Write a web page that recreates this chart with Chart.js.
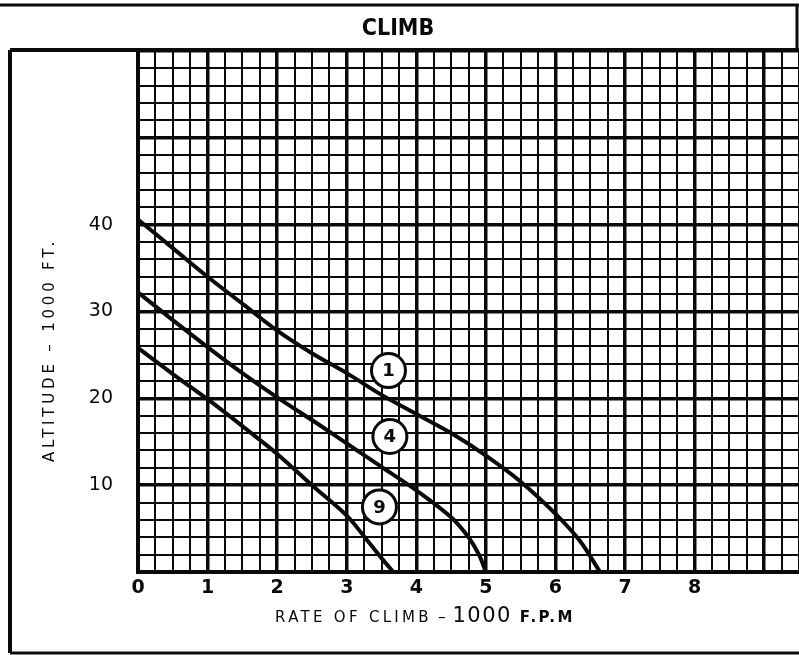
<!DOCTYPE html>
<html><head><meta charset="utf-8">
<script src="https://cdn.jsdelivr.net/npm/chart.js@4/dist/chart.umd.min.js"></script>
<style>html,body{margin:0;padding:0;background:#fff;overflow:hidden}</style>
</head><body>
<canvas id="c" width="799" height="655" style="display:block;width:799px;height:655px"></canvas>
<script>
// ---- text ----
const chartTitle = 'CLIMB';
const xTitleParts = ['RATE OF CLIMB', '–', '1000', 'F.P.M'];
const yAxisTitle = 'ALTITUDE – 1000 FT.';
const xTickLabels = ['0','1','2','3','4','5','6','7','8'];
const yTickLabels = ['10','20','30','40'];

// ---- data (rate of climb, 1000 fpm  vs altitude, 1000 ft) ----
const curve1Rate = [0, 0.5, 1, 1.5, 2, 2.5, 3, 3.5, 4, 4.5, 5, 5.5, 6, 6.35, 6.64];
const curve1Alt  = [40.6, 37.3, 34.0, 30.9, 27.8, 25.2, 22.9, 20.4, 18.2, 16.0, 13.4, 10.4, 6.7, 3.6, 0];
const curve4Rate = [0, 0.5, 1, 1.5, 2, 2.5, 3, 3.5, 4, 4.5, 4.75, 4.9, 5];
const curve4Alt  = [32.2, 29.0, 25.9, 22.9, 20.1, 17.5, 14.8, 12.1, 9.4, 6.3, 4.0, 2.0, 0];
const curve9Rate = [0, 0.5, 1, 1.5, 2, 2.5, 3, 3.25, 3.5, 3.67];
const curve9Alt  = [25.8, 22.8, 19.9, 16.8, 13.6, 10.0, 6.5, 4.1, 1.6, 0];
const tagText = ['1', '4', '9'];
const tagRate = [3.6, 3.62, 3.47];
const tagAlt  = [23.2, 15.6, 7.5];

const INK = '#0a0a0a';
const pts = (xs, ys) => xs.map((x, i) => ({x, y: ys[i]}));

const decor = {
  id: 'decor',
  beforeDraw(chart) {
    const ctx = chart.ctx;
    ctx.save();
    ctx.fillStyle = '#fff';
    ctx.fillRect(0, 0, chart.width, chart.height);
    ctx.restore();
  },
  afterDatasetsDraw(chart) {
    const ctx = chart.ctx;
    const meta = chart.getDatasetMeta(3);
    ctx.save();
    ctx.fillStyle = INK;
    ctx.font = 'bold 18px "DejaVu Sans", sans-serif';
    ctx.textAlign = 'center';
    ctx.textBaseline = 'middle';
    meta.data.forEach((el, i) => ctx.fillText(tagText[i], el.x, el.y + 1));
    ctx.restore();
  },
  afterDraw(chart) {
    const ctx = chart.ctx;
    const W = chart.width, H = chart.height;
    const area = chart.chartArea;
    ctx.save();
    ctx.strokeStyle = INK;
    const line = (x1, y1, x2, y2, w) => {
      ctx.lineWidth = w; ctx.beginPath(); ctx.moveTo(x1, y1); ctx.lineTo(x2, y2); ctx.stroke();
    };
    line(0, 5, W, 5, 3);            // top frame
    line(W - 2, 5, W - 2, 50, 3);   // title box right edge
    line(10, area.top - 1, W, area.top - 1, 4); // plot top frame
    line(10, area.top - 1, 10, H - 2, 4);       // left frame
    line(10, H - 2, W, H - 2, 3);   // bottom frame

    // chart title
    ctx.fillStyle = INK;
    ctx.textAlign = 'center';
    ctx.textBaseline = 'middle';
    ctx.font = 'bold 23px "DejaVu Sans Condensed", "Liberation Sans Narrow", "DejaVu Sans", sans-serif';
    ctx.fillText(chartTitle, 398, 29);

    // x-axis title (mixed fonts)
    ctx.textBaseline = 'alphabetic';
    ctx.textAlign = 'left';
    const parts = [
      {t: xTitleParts[0], f: '15px "DejaVu Sans", sans-serif', ls: '3.3px', gap: 6},
      {t: xTitleParts[1], f: '15px "DejaVu Sans", sans-serif', ls: '0px', gap: 7},
      {t: xTitleParts[2], f: '21px "DejaVu Sans", sans-serif', ls: '1.5px', gap: 8},
      {t: xTitleParts[3], f: 'bold 15px "DejaVu Sans", sans-serif', ls: '2.5px', gap: 0}
    ];
    let total = 0;
    parts.forEach(p => { ctx.font = p.f; ctx.letterSpacing = p.ls; p.w = ctx.measureText(p.t).width; total += p.w + p.gap; });
    let x = 425 - total / 2;
    parts.forEach(p => { ctx.font = p.f; ctx.letterSpacing = p.ls; ctx.fillText(p.t, x, 622); x += p.w + p.gap; });

    // y-axis title (rotated)
    ctx.save();
    ctx.translate(54, 350);
    ctx.rotate(-Math.PI / 2);
    ctx.font = '15px "DejaVu Sans", sans-serif';
    ctx.letterSpacing = '3.8px';
    ctx.textAlign = 'center';
    ctx.textBaseline = 'alphabetic';
    ctx.fillText(yAxisTitle, 0, 0);
    ctx.restore();
    ctx.restore();
  }
};

const curveStyle = {
  showLine: true, borderColor: INK, borderWidth: 4, pointRadius: 0, pointHoverRadius: 0,
  tension: 0.35, fill: false, order: 1
};

new Chart(document.getElementById('c'), {
  type: 'scatter',
  data: {
    datasets: [
      Object.assign({label: '1', data: pts(curve1Rate, curve1Alt)}, curveStyle),
      Object.assign({label: '4', data: pts(curve4Rate, curve4Alt)}, curveStyle),
      Object.assign({label: '9', data: pts(curve9Rate, curve9Alt)}, curveStyle),
      {label: 'tags', data: pts(tagRate, tagAlt), showLine: false, pointRadius: 17, pointHoverRadius: 17,
       pointBackgroundColor: '#fff', pointBorderColor: INK, pointBorderWidth: 3, order: 0}
    ]
  },
  options: {
    responsive: false, animation: false, devicePixelRatio: 1,
    events: [],
    layout: {padding: {top: 51, left: 0, right: 0, bottom: 0}, autoPadding: false},
    plugins: {
      legend: {display: false}, tooltip: {enabled: false}, title: {display: false}
    },
    scales: {
      x: {
        type: 'linear', min: 0, max: 9.5,
        afterFit(s) { s.height = 83; s.paddingRight = 0; s.paddingLeft = 0; },
        ticks: {stepSize: 0.25, autoSkip: false, maxRotation: 0, padding: 0, color: INK,
          font: {family: '"DejaVu Sans", sans-serif', size: 19, weight: 'bold'},
          callback: v => xTickLabels.includes(String(v)) ? String(v) : ''},
        grid: {color: INK, drawTicks: true, tickLength: 5, tickColor: 'rgba(0,0,0,0)',
          lineWidth: c => (c.tick && c.tick.value % 1 === 0) ? 3.5 : 2},
        border: {display: true, width: 4, color: INK}
      },
      y: {
        type: 'linear', min: 0, max: 60,
        afterFit(s) { s.width = 138; },
        ticks: {stepSize: 2, autoSkip: false, padding: 25, color: INK,
          font: {family: '"DejaVu Sans", sans-serif', size: 19},
          callback: v => yTickLabels.includes(String(v)) ? String(v) : ''},
        grid: {color: INK, drawTicks: false,
          lineWidth: c => (c.tick && c.tick.value % 10 === 0) ? 3.5 : 2},
        border: {display: true, width: 4, color: INK}
      }
    }
  },
  plugins: [decor]
});
</script>
</body></html>
